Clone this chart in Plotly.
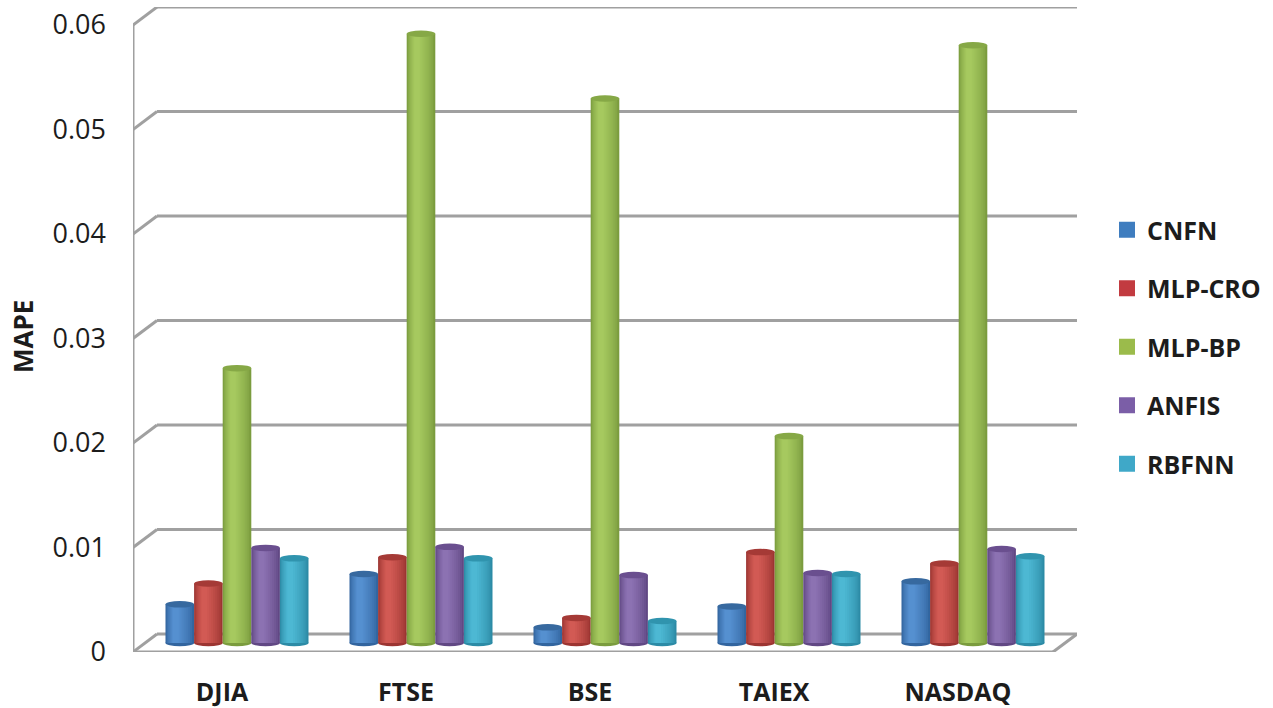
import plotly.graph_objects as go

categories = ["DJIA", "FTSE", "BSE", "TAIEX", "NASDAQ"]
series_names = ["CNFN", "MLP-CRO", "MLP-BP", "ANFIS", "RBFNN"]
cnfn = [0.0037, 0.0066, 0.0015, 0.0035, 0.0059]
mlp_cro = [0.0057, 0.0082, 0.0024, 0.0087, 0.0076]
mlp_bp = [0.0263, 0.0583, 0.0521, 0.0198, 0.0572]
anfis = [0.0091, 0.0092, 0.0065, 0.0067, 0.0090]
rbfnn = [0.0081, 0.0081, 0.0021, 0.0066, 0.0083]
y_ticks = [0, 0.01, 0.02, 0.03, 0.04, 0.05, 0.06]
y_tick_labels = ["0", "0.01", "0.02", "0.03", "0.04", "0.05", "0.06"]

series_values = [cnfn, mlp_cro, mlp_bp, anfis, rbfnn]
edge_colors = ["#32659f", "#9c3532", "#7b9c3e", "#614884", "#2c8ba6"]
center_colors = ["#5590d0", "#d25a54", "#a6c95f", "#8c72b2", "#4db8d3"]
cap_colors = ["#37699f", "#a53a36", "#86a846", "#6a4f8f", "#3094ae"]
legend_colors = ["#3f7dbf", "#c23b40", "#9bbb4b", "#7b5ea7", "#3fa8c8"]

# Pseudo-3D geometry in data units
DEPTH_X = 24 / 184
DEPTH_Y = 18 / 10450
BAR_W = 28.6 / 184
CAP_H = 6.5 / 10450
LAYERS = 9
GRID = "#a0a0a0"
X0, X1 = -0.5, 4.5


def mix(a, b, t):
    ca = [int(a[i:i + 2], 16) for i in (1, 3, 5)]
    cb = [int(b[i:i + 2], 16) for i in (1, 3, 5)]
    return "rgb(%d,%d,%d)" % tuple(round(p + (q - p) * t) for p, q in zip(ca, cb))


def wall_line(xa, ya, xb, yb):
    return dict(type="line", layer="below", xref="x", yref="y", x0=xa, y0=ya, x1=xb, y1=yb,
                line=dict(color=GRID, width=3))


fig = go.Figure()

shapes = []
# back wall gridlines, their side returns, floor and front axis (under the bars)
for v in y_ticks:
    shapes.append(wall_line(X0, v, X0 + DEPTH_X, v + DEPTH_Y))
    shapes.append(wall_line(X0 + DEPTH_X, v + DEPTH_Y, X1 + DEPTH_X, v + DEPTH_Y))
shapes.append(wall_line(X0, y_ticks[-1], X0, 0))
shapes.append(wall_line(X0, 0, X1, 0))
shapes.append(wall_line(X1, 0, X1 + DEPTH_X, DEPTH_Y))

for s, (name, values) in enumerate(zip(series_names, series_values)):
    offs = [i + DEPTH_X / 2 + (s - 2) * BAR_W for i in range(len(categories))]
    for k in range(LAYERS):
        t = k / (LAYERS - 1)
        frac = 1 - 0.8 * t
        shift = -0.14 * BAR_W * t
        fig.add_trace(go.Bar(
            x=[o + shift for o in offs], y=values, base=[DEPTH_Y / 2] * len(values),
            width=BAR_W * frac, marker=dict(color=mix(edge_colors[s], center_colors[s], t ** 0.7), line_width=0),
            showlegend=False, hoverinfo="skip"))
    for o, v in zip(offs, values):
        top = v + DEPTH_Y / 2
        shapes.append(dict(type="circle", layer="above", xref="x", yref="y", line_width=0,
                           fillcolor=cap_colors[s],
                           x0=o - BAR_W / 2, x1=o + BAR_W / 2, y0=top - CAP_H / 2, y1=top + CAP_H / 2))
        shapes.append(dict(type="circle", layer="below", xref="x", yref="y", line_width=0,
                           fillcolor=edge_colors[s],
                           x0=o - BAR_W / 2, x1=o + BAR_W / 2,
                           y0=DEPTH_Y / 2 - CAP_H / 2, y1=DEPTH_Y / 2 + CAP_H / 2))

# legend entries
for s, name in enumerate(series_names):
    fig.add_trace(go.Scatter(x=[None], y=[None], mode="markers", name=name, legendgroup=name,
                             marker=dict(symbol="square", size=16, color=legend_colors[s])))

fig.update_layout(
    width=1273, height=708,
    margin=dict(l=133, r=196, t=7, b=56, autoexpand=False),
    paper_bgcolor="white", plot_bgcolor="white",
    barmode="overlay", shapes=shapes, showlegend=True,
    font=dict(family="Open Sans", color="#1c1c1c"),
    xaxis=dict(range=[X0, X1 + DEPTH_X], tickmode="array",
               tickvals=[i - 3 / 184 for i in range(len(categories))],
               ticktext=categories, showgrid=False, zeroline=False, showline=False, ticks="",
               ticklabelstandoff=23, tickfont=dict(size=25, family="Open Sans", weight=700)),
    yaxis=dict(range=[0, y_ticks[-1] + DEPTH_Y], tickmode="array", tickvals=y_ticks,
               ticktext=y_tick_labels, showgrid=False, zeroline=False, showline=False, ticks="",
               ticklabelstandoff=26, tickfont=dict(size=27, family="Open Sans")),
    annotations=[dict(text="MAPE", textangle=-90, showarrow=False, xref="paper", yref="paper",
                      x=(23 - 133) / 944, y=(652 - 337) / 645, xanchor="center", yanchor="middle",
                      font=dict(size=26, family="Open Sans", weight=700, color="#1c1c1c"))],
    legend=dict(x=(1107 - 133) / 944, xanchor="left", y=(652 - 347) / 645, yanchor="middle",
                tracegroupgap=23, itemwidth=30, bgcolor="rgba(0,0,0,0)",
                font=dict(size=25, family="Open Sans", weight=700, color="#1c1c1c")),
)

fig.write_html("out.html", config=dict(displayModeBar=False),
               post_script="document.body.style.margin='0';")
